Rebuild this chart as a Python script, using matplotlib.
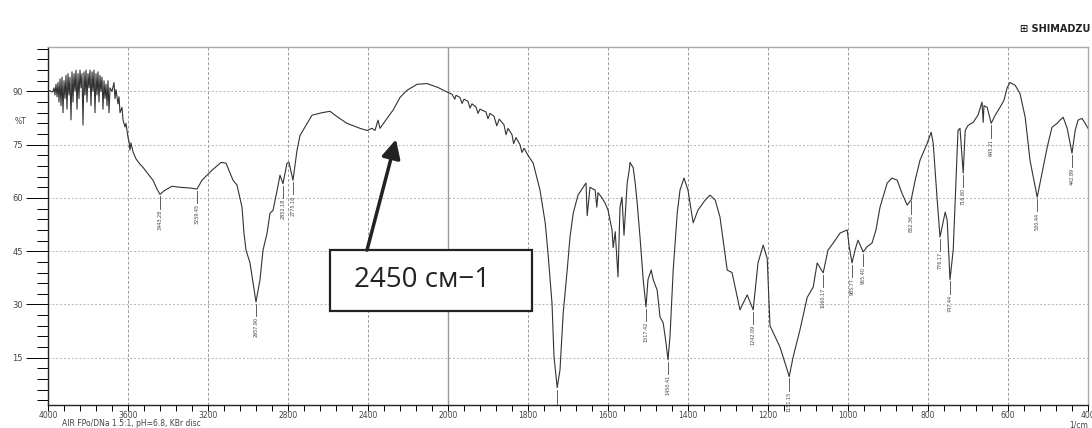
import numpy as np
import matplotlib
matplotlib.use("Agg")
import matplotlib.pyplot as plt
from matplotlib.patches import Rectangle

# IR spectrum (wavenumber in 1/cm, %T)
wavenumber = [
    4000, 3990, 3980, 3975, 3970, 3965, 3960, 3955, 3950, 3945, 3940, 3935, 3930, 3925, 3920,
    3915, 3910, 3905, 3900, 3895, 3890, 3885, 3880, 3875, 3870, 3865, 3860, 3855, 3850, 3845,
    3840, 3835, 3830, 3825, 3820, 3815, 3810, 3805, 3800, 3795, 3790, 3785, 3780, 3775, 3770,
    3765, 3760, 3755, 3750, 3745, 3740, 3735, 3730, 3725, 3720, 3715, 3710, 3705, 3700, 3695,
    3690, 3680, 3670, 3665, 3660, 3650, 3645, 3640, 3630, 3625, 3615, 3610, 3600, 3595, 3590,
    3585, 3575, 3560, 3540, 3525, 3500, 3475, 3455, 3440, 3420, 3380, 3340, 3290, 3255, 3230,
    3180, 3135, 3110, 3075, 3055, 3030, 3020, 3010, 2990, 2960, 2940, 2925, 2905, 2890, 2875,
    2855, 2840, 2825, 2805, 2795, 2775, 2755, 2740, 2715, 2680, 2630, 2590, 2550, 2505, 2440,
    2405, 2380, 2365, 2350, 2340, 2305, 2275, 2240, 2205, 2155, 2105, 2050, 2000,
    1990, 1983, 1980, 1970, 1965, 1960, 1950, 1945, 1940, 1930, 1925, 1920, 1905, 1900,
    1895, 1885, 1878, 1872, 1860, 1855, 1850, 1840, 1836, 1830, 1820, 1815, 1810, 1800,
    1787, 1770, 1757, 1750, 1740, 1735, 1727, 1720, 1712, 1702, 1695, 1687, 1675,
    1662, 1655, 1652, 1645, 1632, 1628, 1625, 1615, 1607, 1600, 1590, 1587, 1582, 1575, 1570,
    1565, 1560, 1552, 1547, 1545, 1537, 1532, 1527, 1520, 1512, 1505, 1500, 1492, 1487, 1477,
    1470, 1462, 1455, 1450, 1445, 1437, 1427, 1420, 1410, 1400, 1395, 1387, 1375, 1357, 1345,
    1332, 1320, 1312, 1302, 1290, 1270, 1252, 1237, 1225, 1212, 1202, 1195, 1170, 1152, 1147,
    1137, 1120, 1102, 1087, 1077, 1062, 1050, 1037, 1020, 1002, 997, 990, 982, 975, 962,
    952, 940, 930, 920, 902, 890, 877, 865, 852, 842, 832, 820, 802, 792, 787,
    777, 770, 757, 752, 745, 737, 732, 725, 720, 712, 707, 700, 687, 675, 665,
    662, 660, 652, 642, 632, 620, 610, 602, 595, 582, 570, 557, 545, 527, 515,
    502, 490, 477, 470, 462, 452, 440, 432, 425, 415, 407, 400,
]
transmittance = [
    90.0, 90.2, 89.8, 90.0, 91.0, 89.0, 92.0, 88.5, 92.5, 87.0, 93.5, 86.0, 94.0, 84.0, 93.0,
    88.0, 94.5, 85.0, 95.0, 89.0, 94.0, 82.0, 95.5, 87.0, 95.0, 90.0, 96.0, 85.0, 95.0, 88.0,
    96.0, 91.0, 95.0, 80.5, 95.5, 89.0, 96.0, 87.0, 95.0, 91.0, 96.0, 86.0, 95.5, 90.0, 96.0,
    84.0, 95.0, 89.0, 95.5, 87.0, 94.5, 90.0, 94.0, 85.0, 93.0, 88.0, 92.0, 86.0, 93.0, 84.0,
    91.0, 90.0, 92.5, 88.0, 90.5, 86.5, 88.5, 84.0, 85.5, 82.0, 80.0, 81.0, 77.0, 76.0, 73.5,
    75.5, 73.0, 71.0, 69.5, 68.6, 66.8, 65.0, 62.5, 61.0, 62.0, 63.3, 63.0, 62.8, 62.5, 65.0,
    67.8, 70.0, 69.8, 65.0, 63.6, 57.4, 50.0, 45.3, 41.7, 30.7, 37.0, 45.3, 50.0, 55.7, 56.5,
    62.0, 66.4, 64.0, 69.8, 70.0, 65.0, 73.4, 77.6, 80.0, 83.3, 84.0, 84.4, 82.7, 81.0, 79.6,
    79.0, 79.6, 79.0, 81.9, 79.6, 82.4, 84.7, 88.3, 90.3, 92.0, 92.2, 91.1, 89.7,
    89.2, 87.8, 88.9, 88.3, 86.6, 87.8, 87.2, 85.3, 86.5, 85.6, 83.8, 85.0, 84.2, 82.3,
    83.8, 83.0, 80.3, 82.2, 80.6, 77.8, 79.6, 77.8, 75.3, 77.0, 75.0, 72.8, 74.0, 72.0,
    69.8, 62.2, 53.0, 44.5, 30.4, 15.3, 6.6, 11.6, 27.6, 39.7, 49.0, 55.7, 60.8,
    63.0, 64.2, 55.0, 63.0, 62.2, 57.4, 61.5, 60.0, 58.5, 56.6, 51.0, 46.0, 50.5, 37.8, 57.4,
    60.2, 49.5, 64.2, 67.8, 70.0, 68.5, 64.2, 58.5, 49.0, 37.0, 29.3, 37.0, 39.7, 37.0, 34.0,
    26.5, 24.8, 19.2, 14.4, 21.0, 39.7, 55.7, 62.2, 65.6, 62.2, 58.5, 53.0, 56.6, 59.4, 60.8,
    59.4, 54.6, 48.0, 39.7, 39.0, 28.5, 32.7, 28.5, 41.7, 46.7, 43.0, 24.0, 18.0, 11.6, 9.7,
    15.3, 22.9, 32.0, 34.9, 41.7, 38.9, 45.3, 47.3, 50.1, 51.0, 46.3, 41.7, 45.5, 48.1, 44.8,
    46.3, 47.3, 51.0, 57.4, 64.2, 65.6, 65.0, 61.3, 58.0, 59.5, 65.0, 70.6, 75.4, 78.5, 75.4,
    59.4, 49.0, 56.0, 53.7, 37.0, 45.3, 59.4, 79.0, 79.6, 67.0, 79.0, 80.4, 81.3, 83.3, 87.0,
    81.3, 86.0, 85.5, 81.0, 83.3, 85.5, 87.5, 91.1, 92.5, 91.7, 89.4, 82.7, 70.6, 60.2, 67.0,
    74.3, 79.9, 81.0, 81.9, 82.7, 79.6, 72.6, 79.0, 81.9, 82.4, 81.0, 79.6,
]

# picked peaks (position on the curve, printed label)
peak_wn = [3440, 3255, 2960, 2825, 2775, 1505, 1450, 1237, 1147, 1062, 990, 962,
           842, 770, 745, 712, 642, 527, 440]
peak_t = [61.0, 62.5, 30.7, 64.0, 65.0, 29.3, 14.4, 28.5, 9.7, 38.9, 41.7, 44.8,
          59.5, 49.0, 37.0, 67.0, 81.0, 60.2, 72.6]
peak_lbl = ["3443.28", "3259.45", "2957.90", "2852.18", "2775.16", "1517.42", "1450.41",
            "1242.09", "1151.15", "1060.17", "985.77", "955.40", "852.36", "776.17",
            "747.44", "716.80", "645.21", "530.44", "442.89"]

x_major = [4000, 3600, 3200, 2800, 2400, 2000, 1800, 1600, 1400, 1200, 1000, 800, 600, 400]
y_major = [15, 30, 45, 60, 75, 90]


# Shimadzu charts switch to double scale below 2000 1/cm
def fwd(x):
    x = np.asarray(x, dtype=float)
    return np.where(x > 2000, 2000 + (x - 2000) / 2, x)


def inv(u):
    u = np.asarray(u, dtype=float)
    return np.where(u > 2000, 2000 + (u - 2000) * 2, u)


fig = plt.figure(figsize=(10.92, 4.28), dpi=100)
ax = fig.add_axes([48 / 1092, 1 - 405 / 428, 1040 / 1092, 358 / 428])
ax.set_xscale("function", functions=(fwd, inv))
ax.set_xlim(4000, 400)
ax.set_ylim(1.7, 102.5)

for v in x_major[1:-1]:
    if v == 2000:
        ax.axvline(v, color="#9a9a9a", lw=1.0, zorder=0)
    else:
        ax.axvline(v, color="#9a9a9a", lw=0.7, ls=(0, (3, 2)), zorder=0)
for v in y_major:
    ax.axhline(v, color="#b5b5b5", lw=0.7, ls=(0, (2, 2)), zorder=0)

ax.plot(wavenumber, transmittance, color="#333333", lw=0.8)

for w, t, s in zip(peak_wn, peak_t, peak_lbl):
    ax.plot([w, w], [t - 0.5, t - 4.0], color="#444444", lw=0.6)
    ax.text(w, t - 4.3, s, rotation=90, ha="center", va="top", fontsize=3.5, color="#444444")
# strongest band: only the marker line shows above the axis
ax.plot([1727, 1727], [6.0, 1.7], color="#444444", lw=0.6)

ax.set_xticks(x_major)
ax.set_xticklabels([str(v) for v in x_major])
minor_x = [v for v in range(3920, 2000, -80) if v % 400] + \
          [v for v in range(1960, 400, -40) if v % 200]
ax.set_xticks(minor_x, minor=True)
ax.set_yticks(y_major)
ax.set_yticks([v for v in range(3, 103, 3) if v % 15], minor=True)

ax.tick_params(axis="x", which="both", direction="out", length=4, width=0.7,
               labelsize=5.5, labelcolor="#444444", pad=0.5)
ax.tick_params(axis="y", which="major", direction="out", length=16, width=0.7,
               labelsize=6, labelcolor="#444444", pad=2)
ax.tick_params(axis="y", which="minor", direction="out", length=8, width=0.7)

for side in ["left", "bottom"]:
    ax.spines[side].set_color("#222222")
    ax.spines[side].set_linewidth(1.0)
for side in ["top", "right"]:
    ax.spines[side].set_color("#aaaaaa")
    ax.spines[side].set_linewidth(1.0)

fig.text(15 / 1092, 1 - 121 / 428, "%T", fontsize=5.5, color="#444444", ha="left", va="center")

# callout box and arrow
ax.add_patch(Rectangle((2590, 28.2), 1790 - 2590, 45.3 - 28.2, facecolor="white",
                       edgecolor="#222222", lw=1.6, zorder=5))
ax.text(2130, 36.8, "2450 см−1", fontsize=20, family="Open Sans", color="#222222",
        ha="center", va="center", zorder=6)
ax.annotate("", xy=(2260, 76.5), xytext=(2405, 45.3),
            arrowprops=dict(arrowstyle="-|>", lw=2.5, color="#222222",
                            mutation_scale=28, shrinkA=0, shrinkB=0), zorder=6)

fig.text(1090 / 1092, 1 - 29 / 428, "\u229e SHIMADZU", fontsize=7, fontweight="bold",
         color="#222222", ha="right", va="center")
fig.text(62 / 1092, 1 - 424 / 428, "AIR FPo/DNa 1.5:1, pH=6.8, KBr disc", fontsize=5.5,
         color="#444444", ha="left", va="center")
fig.text(1088 / 1092, 1 - 425 / 428, "1/cm", fontsize=5.5, color="#444444",
         ha="right", va="center")

fig.savefig("out.png", dpi=100)
